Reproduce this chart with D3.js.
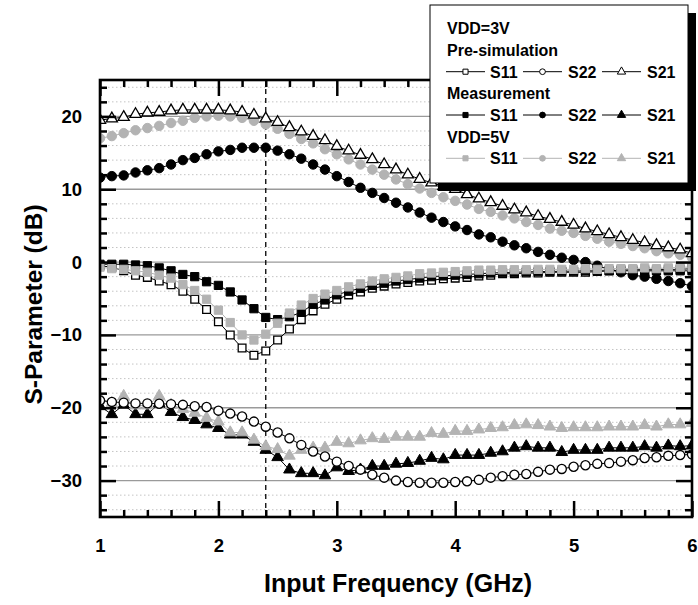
<!DOCTYPE html>
<html><head><meta charset="utf-8">
<script src="https://cdn.jsdelivr.net/npm/d3@7"></script>
<style>
body{margin:0;background:#fff}
svg{display:block}
text{font-family:Arial,"Liberation Sans",Helvetica,sans-serif;font-weight:bold;fill:#000}
</style>
</head><body>
<svg id="chart" width="698" height="605"></svg>
<script>
// ---------- data ----------
const freq = [1.0,1.1,1.2,1.3,1.4,1.5,1.6,1.7,1.8,1.9,2.0,2.1,2.2,2.3,2.4,2.5,2.6,2.7,2.8,2.9,3.0,
              3.1,3.2,3.3,3.4,3.5,3.6,3.7,3.8,3.9,4.0,4.1,4.2,4.3,4.4,4.5,4.6,4.7,4.8,4.9,5.0,
              5.1,5.2,5.3,5.4,5.5,5.6,5.7,5.8,5.9,6.0];

// VDD=3V pre-simulation (open markers)
const preS11 = [-0.5,-0.7,-1.2,-1.8,-2.1,-2.6,-3.1,-4.0,-5.1,-6.5,-8.2,
  -10.0,-11.8,-12.8,-12.2,-10.7,-9.2,-7.9,-6.7,-5.8,-5.1,
  -4.5,-4.1,-3.6,-3.3,-3.0,-2.8,-2.6,-2.5,-2.3,-2.2,
  -2.1,-1.9,-1.8,-1.6,-1.6,-1.5,-1.5,-1.4,-1.4,-1.4,
  -1.4,-1.3,-1.2,-1.1,-1.05,-1.05,-1.05,-1.0,-1.0,-0.9];
const preS22 = [-19.0,-19.2,-19.3,-19.4,-19.4,-19.45,-19.5,-19.6,-19.8,-19.9,-20.4,
  -20.8,-21.2,-21.9,-22.6,-23.4,-24.2,-25.1,-26.0,-26.7,-27.4,
  -28.0,-28.5,-29.2,-29.6,-30.0,-30.2,-30.3,-30.3,-30.3,-30.2,
  -30.1,-29.9,-29.6,-29.4,-29.2,-29.1,-28.8,-28.5,-28.4,-28.1,
  -27.9,-27.7,-27.6,-27.4,-27.2,-26.9,-26.8,-26.6,-26.5,-26.4];
const preS21 = [19.5,19.7,19.9,20.3,20.5,20.6,20.8,20.9,20.9,20.9,20.9,
  20.8,20.6,20.2,19.7,19.2,18.5,17.9,17.3,16.7,15.9,
  15.3,14.7,14.1,13.4,12.7,12.0,11.4,10.9,10.4,10.0,
  9.3,8.7,8.2,7.7,7.2,6.8,6.3,5.9,5.5,5.1,
  4.6,4.2,3.8,3.4,3.0,2.7,2.3,2.0,1.7,1.2];

// VDD=3V measurement (black filled markers)
const measS11 = [-0.3,-0.3,-0.3,-0.4,-0.5,-0.8,-1.2,-1.7,-2.0,-2.7,-3.2,
  -4.1,-5.2,-6.4,-7.6,-7.9,-7.5,-6.9,-5.8,-5.2,-4.5,
  -4.0,-3.6,-3.2,-2.9,-2.6,-2.4,-2.2,-2.0,-1.9,-1.8,
  -1.7,-1.6,-1.5,-1.45,-1.4,-1.35,-1.3,-1.3,-1.25,-1.25,
  -1.2,-1.2,-1.2,-1.2,-1.2,-1.2,-1.2,-1.2,-1.2,-1.2];
const measS22 = [11.6,11.8,11.9,12.3,12.6,12.9,13.4,14.0,14.3,14.8,15.2,
  15.4,15.7,15.7,15.7,15.3,14.8,14.2,13.4,12.7,11.8,
  11.0,10.2,9.5,8.8,8.15,7.5,6.8,6.1,5.5,4.9,
  4.4,3.8,3.4,2.8,2.3,1.9,1.4,1.0,0.6,0.3,
  0.0,-0.5,-1.0,-1.4,-1.8,-2.0,-2.3,-2.6,-2.9,-3.3];
const measS21 = [-19.8,-20.9,-19.6,-20.9,-20.9,-19.4,-20.6,-21.3,-21.7,-22.3,-22.8,
  -23.7,-23.7,-24.7,-25.8,-26.8,-28.5,-29.0,-29.0,-29.3,-28.2,
  -28.7,-28.5,-28.0,-28.0,-27.7,-27.6,-27.3,-26.9,-27.1,-26.5,
  -26.5,-26.5,-26.2,-26.0,-25.5,-25.3,-25.5,-25.5,-26.1,-25.8,
  -25.8,-25.8,-25.5,-25.5,-25.5,-25.3,-25.5,-25.2,-25.3,-25.2];

// VDD=5V (gray filled markers)
const v5S11 = [-0.7,-0.9,-1.0,-1.2,-1.4,-1.8,-2.2,-3.1,-3.9,-5.1,-6.6,
  -8.3,-10.0,-10.7,-9.9,-8.4,-7.0,-5.9,-5.0,-4.4,-3.9,
  -3.4,-3.0,-2.6,-2.3,-2.1,-1.9,-1.6,-1.5,-1.4,-1.3,
  -1.2,-1.1,-1.1,-1.05,-1.05,-1.05,-1.0,-1.0,-1.0,-1.0,
  -0.9,-1.0,-0.9,-0.9,-0.9,-0.8,-0.9,-0.8,-0.7,-0.7];
const v5S22 = [17.0,17.3,17.7,18.1,18.4,18.7,19.1,19.4,19.8,20.0,20.1,
  20.0,19.8,19.4,18.9,18.3,17.6,16.9,16.3,15.5,14.8,
  14.1,13.4,12.7,12.0,11.35,10.7,10.1,9.5,8.9,8.4,
  7.9,7.3,6.9,6.4,6.0,5.5,5.1,4.6,4.3,4.0,
  3.6,3.2,2.8,2.5,2.2,1.9,1.5,1.2,1.0,0.6];
const v5S21 = [-18.7,-19.4,-18.4,-19.7,-19.7,-18.4,-19.6,-20.2,-20.7,-21.4,-21.9,
  -23.4,-23.4,-24.4,-25.3,-25.7,-26.6,-25.8,-25.5,-25.5,-24.7,
  -24.9,-24.5,-24.2,-24.3,-24.0,-24.0,-24.0,-23.5,-23.6,-23.2,
  -23.2,-23.0,-22.8,-22.7,-22.4,-22.3,-22.4,-22.6,-22.8,-22.7,
  -22.7,-22.7,-22.6,-22.6,-22.6,-22.4,-22.6,-22.3,-22.3,-22.1];

const xTicks = [1,2,3,4,5,6];
const yTicks = [-30,-20,-10,0,10,20];
const markerFreq = 2.4;
const xTitle = "Input Frequency (GHz)";
const yTitle = "S-Parameter (dB)";

// ---------- layout ----------
const L = 100, R = 692, T = 80, B = 517;
const GRAY = "#b3b3b3";
const svg = d3.select("#chart");
const x = d3.scaleLinear().domain([1, 6]).range([L, R]);
const y = d3.scaleLinear().domain([-35, 25]).range([B, T]);

// grid
const gridVals = d3.range(-34, 25, 2);
svg.append("g").selectAll("line").data(gridVals).join("line")
  .attr("x1", L).attr("x2", R)
  .attr("y1", d => y(d)).attr("y2", d => y(d))
  .attr("stroke", d => d % 10 === 0 ? "#9a9a9a" : "#c4c4c4")
  .attr("stroke-width", d => d % 10 === 0 ? 1.3 : 1)
  .attr("stroke-dasharray", d => d % 10 === 0 ? null : "1.5,2.5");

// dashed marker line
svg.append("line")
  .attr("x1", x(markerFreq)).attr("x2", x(markerFreq))
  .attr("y1", T).attr("y2", B)
  .attr("stroke", "#000").attr("stroke-width", 1.3)
  .attr("stroke-dasharray", "5,4");

// data
svg.append("clipPath").attr("id", "clip")
  .append("rect").attr("x", L).attr("y", T).attr("width", R - L).attr("height", B - T);
const plot = svg.append("g").attr("clip-path", "url(#clip)");

const S = {
  preS11: {vals: preS11, sym: d3.symbolSquare, size: 60, fill: "#fff", stroke: "#000", line: "#000"},
  preS22: {vals: preS22, sym: d3.symbolCircle, size: 66, fill: "#fff", stroke: "#000", line: "#000"},
  preS21: {vals: preS21, sym: d3.symbolTriangle, size: 54, fill: "#fff", stroke: "#000", line: "#000"},
  measS11: {vals: measS11, sym: d3.symbolSquare, size: 68, fill: "#000", stroke: "#000", line: "#000"},
  measS22: {vals: measS22, sym: d3.symbolCircle, size: 70, fill: "#000", stroke: "#000", line: "#000"},
  measS21: {vals: measS21, sym: d3.symbolTriangle, size: 58, fill: "#000", stroke: "#000", line: "#000"},
  v5S11: {vals: v5S11, sym: d3.symbolSquare, size: 68, fill: GRAY, stroke: GRAY, line: GRAY},
  v5S22: {vals: v5S22, sym: d3.symbolCircle, size: 70, fill: GRAY, stroke: GRAY, line: GRAY},
  v5S21: {vals: v5S21, sym: d3.symbolTriangle, size: 58, fill: GRAY, stroke: GRAY, line: GRAY}
};
const drawOrder = ["preS11", "measS11", "measS22", "measS21", "v5S11", "v5S22", "v5S21", "preS22", "preS21"];
const lineGen = d3.line().x((d, i) => x(freq[i])).y(d => y(d));
drawOrder.forEach(k => {
  const s = S[k];
  const g = plot.append("g");
  g.append("path").attr("d", lineGen(s.vals)).attr("fill", "none")
    .attr("stroke", s.line).attr("stroke-width", 1);
  g.selectAll("path.m").data(s.vals).join("path").attr("class", "m")
    .attr("transform", (d, i) => `translate(${x(freq[i])},${y(d)})`)
    .attr("d", d3.symbol().type(s.sym).size(s.size))
    .attr("fill", s.fill).attr("stroke", s.stroke).attr("stroke-width", s.fill === "#fff" ? 1.3 : 1);
});

// axes (inward ticks)
function styleAxis(g) {
  g.select(".domain").remove();
  g.selectAll(".tick line").attr("stroke", "#000").attr("stroke-width", 2.5);
  g.selectAll("text").attr("font-size", 18.5).attr("font-weight", "bold")
    .attr("font-family", "Arial, 'Liberation Sans', sans-serif");
}
const xMinor = d3.range(1.2, 6, 0.2).filter(v => Math.abs(v - Math.round(v)) > 0.05);
const yMinor = gridVals.filter(v => v % 10 !== 0);

svg.append("g").attr("transform", `translate(0,${B})`)
  .call(d3.axisBottom(x).tickValues(xTicks).tickFormat(d3.format("d")).tickSizeInner(-16).tickSizeOuter(0).tickPadding(22)).call(styleAxis);
svg.append("g").attr("transform", `translate(0,${B})`)
  .call(d3.axisBottom(x).tickValues(xMinor).tickFormat("").tickSizeInner(-7).tickSizeOuter(0)).call(styleAxis);
svg.append("g").attr("transform", `translate(0,${T})`)
  .call(d3.axisTop(x).tickValues(xTicks).tickFormat("").tickSizeInner(-16).tickSizeOuter(0)).call(styleAxis);
svg.append("g").attr("transform", `translate(0,${T})`)
  .call(d3.axisTop(x).tickValues(xMinor).tickFormat("").tickSizeInner(-7).tickSizeOuter(0)).call(styleAxis);
svg.append("g").attr("transform", `translate(${L},0)`)
  .call(d3.axisLeft(y).tickValues(yTicks).tickFormat(d3.format("d")).tickSizeInner(-16).tickSizeOuter(0).tickPadding(18)).call(styleAxis);
svg.append("g").attr("transform", `translate(${L},0)`)
  .call(d3.axisLeft(y).tickValues(yMinor).tickFormat("").tickSizeInner(-7).tickSizeOuter(0)).call(styleAxis);
svg.append("g").attr("transform", `translate(${R},0)`)
  .call(d3.axisRight(y).tickValues(yTicks).tickFormat("").tickSizeInner(-16).tickSizeOuter(0)).call(styleAxis);
svg.append("g").attr("transform", `translate(${R},0)`)
  .call(d3.axisRight(y).tickValues(yMinor).tickFormat("").tickSizeInner(-7).tickSizeOuter(0)).call(styleAxis);

// frame
svg.append("rect").attr("x", L).attr("y", T).attr("width", R - L).attr("height", B - T)
  .attr("fill", "none").attr("stroke", "#000").attr("stroke-width", 2.6);

// axis titles
svg.append("text").attr("x", 398).attr("y", 592).attr("text-anchor", "middle")
  .attr("font-size", 25).text(xTitle);
svg.append("text").attr("transform", `translate(42,${(T + B) / 2 + 6}) rotate(-90)`)
  .attr("text-anchor", "middle").attr("font-size", 24.5).text(yTitle);

// legend
const lg = svg.append("g");
lg.append("rect").attr("x", 438).attr("y", 13).attr("width", 258).attr("height", 178).attr("fill", "#000");
lg.append("rect").attr("x", 430).attr("y", 5).attr("width", 258).attr("height", 178)
  .attr("fill", "#fff").attr("stroke", "#000").attr("stroke-width", 1);
const headers = [["VDD=3V", 28.3], ["Pre-simulation", 50], ["Measurement", 93.3], ["VDD=5V", 136.7]];
headers.forEach(([t, cy]) => lg.append("text").attr("x", 447).attr("y", cy + 5.8).attr("font-size", 16).text(t));
const rows = [
  {cy: 71.7, items: ["preS11", "preS22", "preS21"]},
  {cy: 115, items: ["measS11", "measS22", "measS21"]},
  {cy: 158.3, items: ["v5S11", "v5S22", "v5S21"]}
];
const names = ["S11", "S22", "S21"];
const segs = [[446, 485, 490], [523, 562, 568], [602, 641, 647]];
rows.forEach(r => {
  r.items.forEach((key, k) => {
    const s = S[key];
    const [a, b, tx] = segs[k];
    lg.append("line").attr("x1", a).attr("x2", b).attr("y1", r.cy).attr("y2", r.cy)
      .attr("stroke", s.line).attr("stroke-width", 1);
    lg.append("path").attr("transform", `translate(${(a + b) / 2},${r.cy})`)
      .attr("d", d3.symbol().type(s.sym).size(s.sym === d3.symbolTriangle ? 30 : 26))
      .attr("fill", s.fill).attr("stroke", s.stroke).attr("stroke-width", 1);
    lg.append("text").attr("x", tx).attr("y", r.cy + 5.8).attr("font-size", 16).text(names[k]);
  });
});
</script>
</body></html>
